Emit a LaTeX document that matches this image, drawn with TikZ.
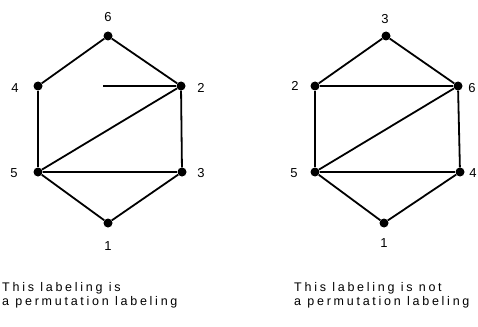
\documentclass[tikz,border=0pt]{standalone}
\usepackage{fontspec}
\setmainfont{Liberation Sans}
\newfontfamily\scanfont[LetterSpace=22]{Liberation Sans}
\usetikzlibrary{positioning}

\begin{document}
\begin{tikzpicture}[
  x=1pt, y=-1pt,
  vtx/.style={circle, fill=black, inner sep=0pt, minimum size=9pt},
  num/.style={font=\fontsize{13}{13}\selectfont, inner sep=0pt},
  edge/.style={line width=1.8pt},
  caption/.style={font=\scanfont\fontsize{12.5}{14}\selectfont, align=left, anchor=north west, inner sep=0pt}
]
\useasboundingbox (0,0) rectangle (478,326);

% left hexagon
\node[vtx] (la) at (108,36) {};
\node[vtx] (lb) at (38,86) {};
\node[vtx] (lc) at (181,86) {};
\node[vtx] (ld) at (38,172) {};
\node[vtx] (le) at (182,172) {};
\node[vtx] (lf) at (108,223) {};
\coordinate (lmid) at (103,86);

\node[num] (na) at (108,17) {6};
\node[num] (nb) at (15,88) {4};
\node[num] (nc) at (201,88) {2};
\node[num] (nd) at (14,173) {5};
\node[num] (ne) at (201,173) {3};
\node[num] (nf) at (108,246) {1};

\draw[edge] (la) -- (lb);
\draw[edge] (la) -- (lc);
\draw[edge] (lb) -- (ld);
\draw[edge] (lc) -- (le);
\draw[edge] (ld) -- (le);
\draw[edge] (ld) -- (lc);
\draw[edge] (ld) -- (lf);
\draw[edge] (le) -- (lf);
\draw[line width=1.2pt] (lc) -- (lmid);

% right hexagon
\node[vtx] (ra) at (386,36) {};
\node[vtx] (rb) at (315,86) {};
\node[vtx] (rc) at (458,86) {};
\node[vtx] (rd) at (315,172) {};
\node[vtx] (re) at (460,172) {};
\node[vtx] (rf) at (384,223) {};

\node[num] (ma) at (385,19) {3};
\node[num] (mb) at (295,86) {2};
\node[num] (mc) at (472,88) {6};
\node[num] (md) at (294,173) {5};
\node[num] (me) at (473,173) {4};
\node[num] (mf) at (384,243) {1};

\draw[edge] (ra) -- (rb);
\draw[edge] (ra) -- (rc);
\draw[edge] (rb) -- (rc);
\draw[edge] (rb) -- (rd);
\draw[edge] (rc) -- (re);
\draw[edge] (rd) -- (re);
\draw[edge] (rd) -- (rc);
\draw[edge] (rd) -- (rf);
\draw[edge] (re) -- (rf);

% captions
\node[caption] (capl) at (2,282) {This labeling is\\a permutation labeling};
\node[caption] (capr) at (294,282) {This labeling is not\\a permutation labeling};
\end{tikzpicture}
\end{document}
